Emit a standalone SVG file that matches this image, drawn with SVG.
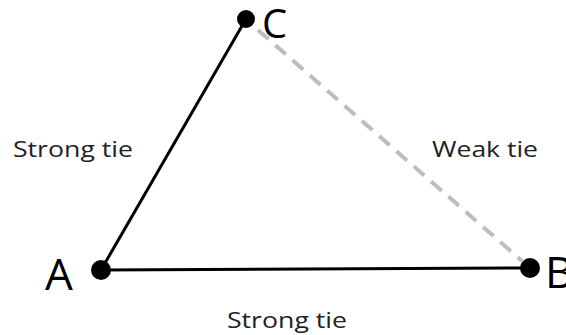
<svg xmlns="http://www.w3.org/2000/svg" width="566" height="335" viewBox="0 0 566 335">
<style>
.edge{stroke:#000;stroke-width:3;fill:none;stroke-linecap:round}
.weak{stroke:#bdbdbd;stroke-width:4;fill:none;stroke-dasharray:14 9}
.dot{fill:#000}
.big{font-family:"Open Sans","Liberation Sans",sans-serif;fill:#000}
.lbl{font-family:"Open Sans","Liberation Sans",sans-serif;font-size:22px;fill:#222}
</style>
<rect width="566" height="335" fill="#fff"/>
<g id="connectors">
<line class="weak" x1="258" y1="30" x2="522" y2="261"/>
<line class="edge" x1="101" y1="270" x2="246" y2="19"/>
<line class="edge" x1="101" y1="270" x2="530" y2="268"/>
</g>
<g id="node-C">
<circle class="dot" cx="246" cy="19" r="9"/>
<text class="big" x="262" y="38" font-size="40">C</text>
</g>
<g id="node-A">
<circle class="dot" cx="101" cy="270" r="10"/>
<text class="big" x="45" y="290" font-size="44">A</text>
</g>
<g id="node-B">
<circle class="dot" cx="530" cy="268" r="10"/>
<text class="big" x="545" y="288" font-size="44">B</text>
</g>
<g id="labels">
<text class="lbl" x="13" y="157" textLength="120" lengthAdjust="spacingAndGlyphs">Strong tie</text>
<text class="lbl" x="432" y="157" textLength="106" lengthAdjust="spacingAndGlyphs">Weak tie</text>
<text class="lbl" x="227" y="328" textLength="120" lengthAdjust="spacingAndGlyphs">Strong tie</text>
</g>
</svg>
